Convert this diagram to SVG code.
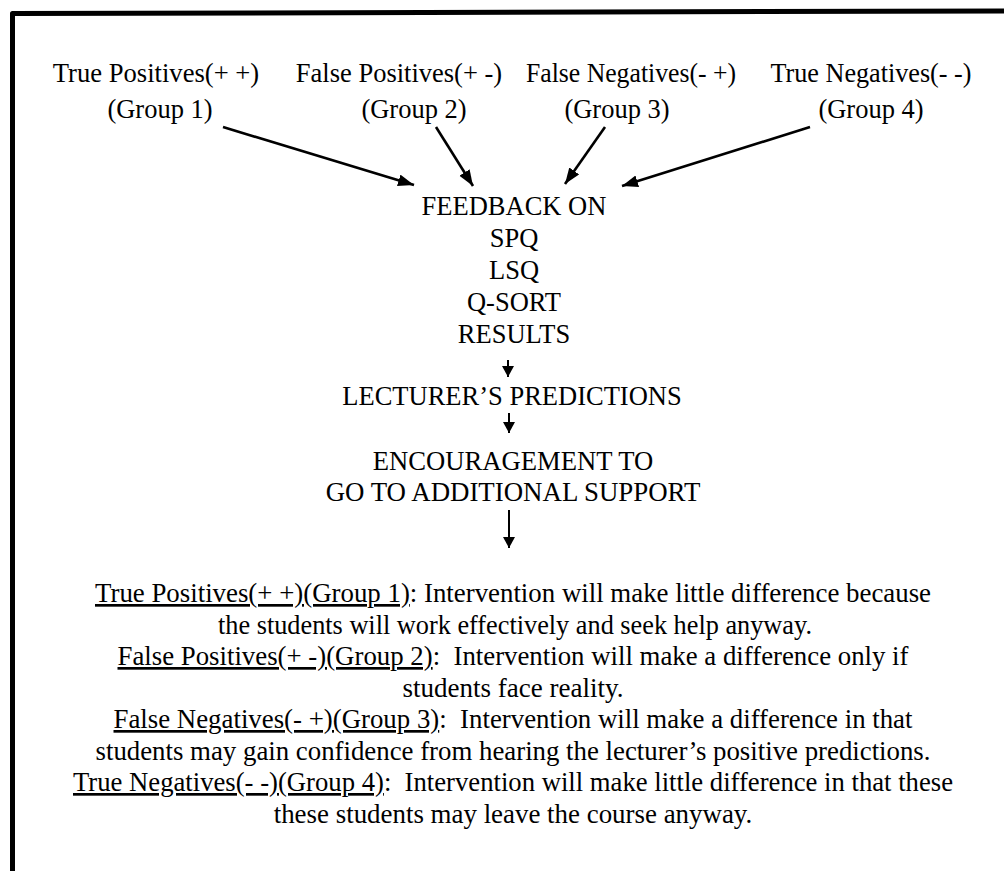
<svg xmlns="http://www.w3.org/2000/svg" width="1004" height="871" viewBox="0 0 1004 871">
<style>
text{font-family:"Liberation Serif","Tinos","Times New Roman",Times,"DejaVu Serif",serif;fill:#000;}
.t{font-size:26.5px;text-anchor:middle;}
.b{font-size:26.8px;text-anchor:middle;white-space:pre;}
.u{text-decoration:underline;}
.c{stroke:#000;stroke-width:2.6;fill:none;}
.s{stroke:#000;stroke-width:2;fill:none;}
</style>
<defs>
<marker id="ah" markerUnits="userSpaceOnUse" markerWidth="18" markerHeight="14" refX="16" refY="6" orient="auto">
<path d="M0,0 L16,6 L0,12 Z" fill="#000"/>
</marker>
<marker id="as" markerUnits="userSpaceOnUse" markerWidth="14" markerHeight="14" refX="11" refY="6" orient="auto">
<path d="M0,0 L11,6 L0,12 Z" fill="#000"/>
</marker>
</defs>
<rect width="1004" height="871" fill="#fff"/>
<path d="M12.5,871 L12.5,13.5 L1004,11" stroke="#000" stroke-width="5" fill="none" stroke-linejoin="round"/>

<g font-family="'Liberation Serif', Tinos, 'Times New Roman', Times, 'DejaVu Serif', serif">
<g id="group1">
<text class="t" x="156" y="82" textLength="206.5" lengthAdjust="spacingAndGlyphs">True Positives(+ +)</text>
<text class="t" x="160" y="118" textLength="105.2" lengthAdjust="spacingAndGlyphs">(Group 1)</text>
</g>
<g id="group2">
<text class="t" x="399" y="82" textLength="206.3" lengthAdjust="spacingAndGlyphs">False Positives(+ -)</text>
<text class="t" x="414" y="118" textLength="105.2" lengthAdjust="spacingAndGlyphs">(Group 2)</text>
</g>
<g id="group3">
<text class="t" x="631" y="82" textLength="210" lengthAdjust="spacingAndGlyphs">False Negatives(- +)</text>
<text class="t" x="617" y="118" textLength="105.2" lengthAdjust="spacingAndGlyphs">(Group 3)</text>
</g>
<g id="group4">
<text class="t" x="871" y="82" textLength="201" lengthAdjust="spacingAndGlyphs">True Negatives(- -)</text>
<text class="t" x="871" y="118" textLength="105.2" lengthAdjust="spacingAndGlyphs">(Group 4)</text>
</g>

<g id="feedback">
<text class="t" x="514" y="215" textLength="184.8" lengthAdjust="spacingAndGlyphs">FEEDBACK ON</text>
<text class="t" x="514" y="247">SPQ</text>
<text class="t" x="514" y="279">LSQ</text>
<text class="t" x="514" y="311">Q-SORT</text>
<text class="t" x="514" y="343">RESULTS</text>
</g>
<g id="predictions">
<text class="t" x="512" y="405" textLength="339.4" lengthAdjust="spacingAndGlyphs">LECTURER’S PREDICTIONS</text>
</g>
<g id="encouragement">
<text class="t" x="513" y="470" textLength="280.4" lengthAdjust="spacingAndGlyphs">ENCOURAGEMENT TO</text>
<text class="t" x="513" y="501" textLength="374.6" lengthAdjust="spacingAndGlyphs">GO TO ADDITIONAL SUPPORT</text>
</g>

<g id="outcomes">
<text class="b" x="513" y="602" textLength="836" lengthAdjust="spacingAndGlyphs"><tspan class="u">True Positives(+ +)(Group 1)</tspan>: Intervention will make little difference because</text>
<text class="b" x="515" y="633.5" textLength="594" lengthAdjust="spacingAndGlyphs">the students will work effectively and seek help anyway.</text>
<text class="b" x="513" y="665" textLength="791" lengthAdjust="spacingAndGlyphs"><tspan class="u">False Positives(+ -)(Group 2)</tspan>:  Intervention will make a difference only if</text>
<text class="b" x="513" y="696.5" textLength="221" lengthAdjust="spacingAndGlyphs">students face reality.</text>
<text class="b" x="513" y="728" textLength="799" lengthAdjust="spacingAndGlyphs"><tspan class="u">False Negatives(- +)(Group 3)</tspan>:  Intervention will make a difference in that</text>
<text class="b" x="513" y="759.5" textLength="835" lengthAdjust="spacingAndGlyphs">students may gain confidence from hearing the lecturer’s positive predictions.</text>
<text class="b" x="513" y="791" textLength="880" lengthAdjust="spacingAndGlyphs"><tspan class="u">True Negatives(- -)(Group 4)</tspan>:  Intervention will make little difference in that these</text>
<text class="b" x="513" y="822.5" textLength="478.6" lengthAdjust="spacingAndGlyphs">these students may leave the course anyway.</text>
</g>
</g>

<g id="connectors">
<line class="c" x1="223" y1="127" x2="414" y2="185" marker-end="url(#ah)"/>
<line class="c" x1="436" y1="127" x2="473" y2="186" marker-end="url(#ah)"/>
<line class="c" x1="605" y1="127" x2="565" y2="184" marker-end="url(#ah)"/>
<line class="c" x1="810" y1="127" x2="622" y2="186" marker-end="url(#ah)"/>
<line class="s" x1="508" y1="360" x2="508" y2="377" marker-end="url(#as)"/>
<line class="s" x1="509" y1="413" x2="509" y2="433" marker-end="url(#as)"/>
<line class="s" x1="509" y1="510" x2="509" y2="548" marker-end="url(#as)"/>
</g>
</svg>
